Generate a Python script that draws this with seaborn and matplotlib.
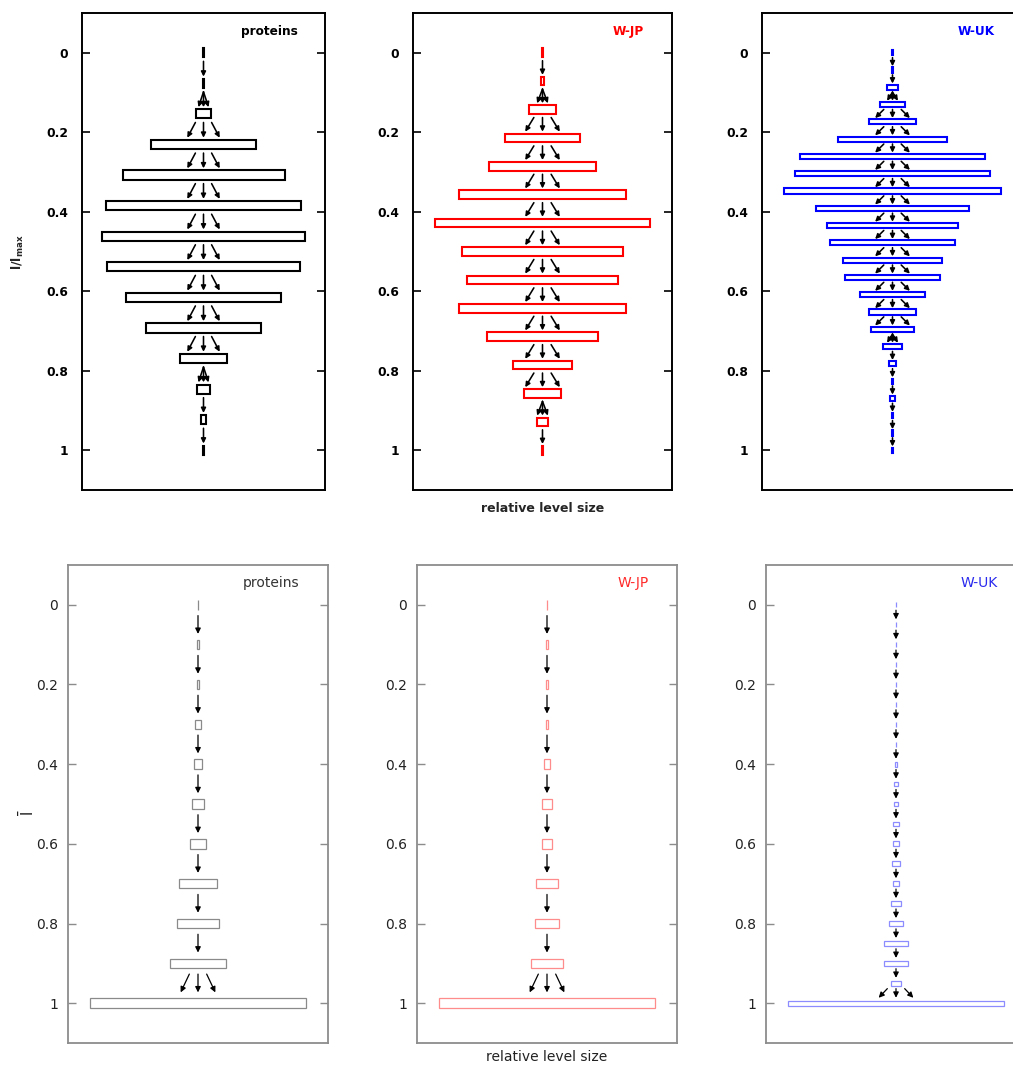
import numpy as np
import pandas as pd
import matplotlib
matplotlib.use("Agg")
import matplotlib.pyplot as plt
import seaborn as sns

sns.set_theme(style="white")
plt.rcParams["font.family"] = ["DejaVu Sans"]
plt.rcParams["mathtext.default"] = "regular"

# ---- relative level sizes (top row: l/l_max, bottom row: mean l) ----
prot_top = [0.004, 0.006, 0.079, 0.516, 0.80, 0.967, 1.0, 0.95, 0.765,
            0.567, 0.228, 0.066, 0.025, 0.004]
wjp_top = [0.004, 0.017, 0.121, 0.35, 0.50, 0.776, 1.0, 0.75, 0.70,
           0.771, 0.518, 0.269, 0.168, 0.05, 0.004]
wuk_top = [0.004, 0.005, 0.05, 0.111, 0.218, 0.498, 0.849, 0.901, 1.0,
           0.70, 0.60, 0.574, 0.452, 0.434, 0.301, 0.218, 0.201, 0.084,
           0.035, 0.006, 0.02, 0.004, 0.006, 0.004]

prot_bot = [0.003, 0.008, 0.012, 0.031, 0.037, 0.058, 0.077, 0.178,
            0.197, 0.262, 1.0]
wjp_bot = [0.003, 0.005, 0.006, 0.008, 0.028, 0.043, 0.043, 0.097,
           0.112, 0.145, 1.0]
wuk_bot = [0.004, 0.004, 0.004, 0.004, 0.004, 0.004, 0.004, 0.004,
           0.006, 0.023, 0.022, 0.031, 0.031, 0.035, 0.031, 0.045,
           0.061, 0.112, 0.111, 0.045, 1.0]

# ---- transitions between consecutive levels: 0 single, 1 narrow fan, 2 wide fan ----
prot_top_links = [0, 1, 2, 2, 2, 2, 2, 2, 2, 2, 1, 0, 0]
wjp_top_links = [0, 1, 2, 2, 2, 2, 2, 2, 2, 2, 2, 2, 1, 0]
wuk_top_links = [0, 0, 1, 2, 2, 2, 2, 2, 2, 2, 2, 2, 2, 2, 2, 2, 1,
                 0, 0, 0, 0, 0, 0]
prot_bot_links = [0] * 9 + [2]
wjp_bot_links = [0] * 9 + [2]
wuk_bot_links = [0] * 19 + [2]

names = ["proteins", "W-JP", "W-UK"]
yticks = [0, 0.2, 0.4, 0.6, 0.8, 1]
ytick_labels = ["0", "0.2", "0.4", "0.6", "0.8", "1"]

W, H = 1013, 1066
fig = plt.figure(figsize=(W / 100, H / 100), dpi=100)


def px_axes(x0, y0, x1, y1):
    return fig.add_axes([x0 / W, 1 - y1 / H, (x1 - x0) / W, (y1 - y0) / H])


FAN = {0: [(0.0, 0.0)],
       1: [(-0.0, -0.025), (0.0, 0.0), (0.0, 0.025)],
       2: [(-0.04, -0.08), (0.0, 0.0), (0.04, 0.08)]}


def draw_panel(ax, sizes, links, color, title, title_color, top):
    n = len(sizes)
    step = 1.0 / (n - 1)
    df = pd.DataFrame({"level": np.linspace(0, 1, n), "size": sizes})
    box_h = (0.30 if top else 0.24) * step
    ax.barh(df["level"], df["size"], left=-df["size"] / 2, height=box_h,
            fill=False, edgecolor=color, linewidth=1.5 if top else 0.9)
    a, b = (0.28, 0.22) if top else (0.27, 0.27)
    for k, code in enumerate(links):
        y0 = df["level"][k] + a * step
        y1 = df["level"][k + 1] - b * step
        for dx0, dx1 in FAN[code]:
            ax.annotate("", xy=(dx1, y1), xytext=(dx0, y0),
                        arrowprops=dict(arrowstyle="-|>", color="black",
                                        lw=1.15 if top else 0.9,
                                        mutation_scale=7 if top else 8,
                                        shrinkA=0, shrinkB=0))
    ax.set_xlim(-0.6, 0.6)
    ax.set_ylim(1.1, -0.1)
    ax.set_xticks([])
    ax.set_yticks(yticks)
    frame = "black" if top else "#8c8c8c"
    for sp in ax.spines.values():
        sp.set_color(frame)
        sp.set_linewidth(1.4 if top else 1.3)
        sp.set_visible(True)
    ax.tick_params(axis="y", direction="in", left=True, right=True,
                   length=6, width=1.2 if top else 1.0, color=frame,
                   pad=10 if top else 7)
    if top:
        ax.set_yticklabels(ytick_labels, fontsize=8.8, fontweight="bold",
                           color="black")
        ax.text(0.89, 0.962, title, transform=ax.transAxes, ha="right",
                va="center", fontsize=8.7, fontweight="bold",
                color=title_color)
    else:
        ax.set_yticklabels(ytick_labels, fontsize=10, color="#222222")
        ax.text(0.89, 0.962, title, transform=ax.transAxes, ha="right",
                va="center", fontsize=10, color=title_color)


# top row
top_frames = [(82, 13, 325, 490), (413, 13, 672, 490), (762, 13, 1023, 490)]
top_data = [(prot_top, prot_top_links, "black", "black"),
            (wjp_top, wjp_top_links, "#ff0000", "#ff0000"),
            (wuk_top, wuk_top_links, "#0000ff", "#0000ff")]
for fr, (s, l, c, tc), nm in zip(top_frames, top_data, names):
    ax = px_axes(*fr)
    draw_panel(ax, s, l, c, nm, tc, top=True)

# bottom row
bot_frames = [(68, 565, 328, 1043), (417, 565, 677, 1043), (766, 565, 1026, 1043)]
bot_data = [(prot_bot, prot_bot_links, "#8a8a8a", "#333333"),
            (wjp_bot, wjp_bot_links, "#ff8c8c", "#ff2a2a"),
            (wuk_bot, wuk_bot_links, "#8c8cff", "#2a2aee")]
for fr, (s, l, c, tc), nm in zip(bot_frames, bot_data, names):
    ax = px_axes(*fr)
    draw_panel(ax, s, l, c, nm, tc, top=False)

# axis labels
fig.text(18 / W, 1 - 252 / H, r"$l/l_{max}$", rotation=90, ha="center",
         va="center", fontsize=9, fontweight="bold")
fig.text(543 / W, 1 - 508 / H, "relative level size", ha="center",
         va="center", fontsize=9, fontweight="bold")
fig.text(27 / W, 1 - 813 / H, r"$\bar{l}$", rotation=90, ha="center",
         va="center", fontsize=11, color="#222222")
fig.text(547 / W, 1 - 1057 / H, "relative level size", ha="center",
         va="center", fontsize=10, color="#222222")

fig.savefig("out.png", dpi=100)
